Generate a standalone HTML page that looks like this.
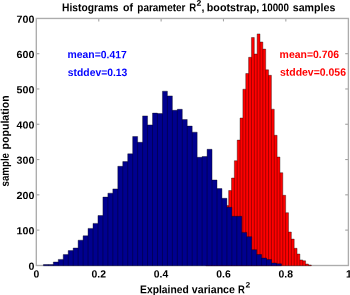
<!DOCTYPE html>
<html><head><meta charset="utf-8"><style>
html,body{margin:0;padding:0;background:#fff;width:350px;height:295px;overflow:hidden}
svg{display:block;will-change:transform}
text{font-family:"Liberation Sans",sans-serif;font-weight:bold;text-rendering:geometricPrecision}
</style></head><body>
<svg width="350" height="295" viewBox="0 0 350 295">
<rect x="0" y="0" width="350" height="295" fill="#fff"/>
<g stroke="#a4a4a4" stroke-width="1.1" fill="none">
<line x1="98.76" y1="18.40" x2="98.76" y2="21.40"/><line x1="98.76" y1="265.40" x2="98.76" y2="262.40"/><line x1="161.12" y1="18.40" x2="161.12" y2="21.40"/><line x1="161.12" y1="265.40" x2="161.12" y2="262.40"/><line x1="223.48" y1="18.40" x2="223.48" y2="21.40"/><line x1="223.48" y1="265.40" x2="223.48" y2="262.40"/><line x1="285.84" y1="18.40" x2="285.84" y2="21.40"/><line x1="285.84" y1="265.40" x2="285.84" y2="262.40"/><line x1="36.40" y1="230.11" x2="39.40" y2="230.11"/><line x1="348.20" y1="230.11" x2="345.20" y2="230.11"/><line x1="36.40" y1="194.83" x2="39.40" y2="194.83"/><line x1="348.20" y1="194.83" x2="345.20" y2="194.83"/><line x1="36.40" y1="159.54" x2="39.40" y2="159.54"/><line x1="348.20" y1="159.54" x2="345.20" y2="159.54"/><line x1="36.40" y1="124.26" x2="39.40" y2="124.26"/><line x1="348.20" y1="124.26" x2="345.20" y2="124.26"/><line x1="36.40" y1="88.97" x2="39.40" y2="88.97"/><line x1="348.20" y1="88.97" x2="345.20" y2="88.97"/><line x1="36.40" y1="53.69" x2="39.40" y2="53.69"/><line x1="348.20" y1="53.69" x2="345.20" y2="53.69"/>
</g>
<rect x="36.3" y="18.45" width="312.1" height="247.05" stroke="#acacac" stroke-width="1.35" fill="none"/>
<path d="M205.85,265.70L205.85,263.00L208.70,263.00L208.70,260.00L211.55,260.00L211.55,255.00L214.40,255.00L214.40,250.00L217.25,250.00L217.25,242.00L220.10,242.00L220.10,232.00L222.95,232.00L222.95,220.00L225.80,220.00L225.80,205.60L228.65,205.60L228.65,190.50L231.50,190.50L231.50,178.00L234.35,178.00L234.35,160.70L237.20,160.70L237.20,140.10L240.05,140.10L240.05,118.00L242.90,118.00L242.90,89.20L245.75,89.20L245.75,73.50L248.60,73.50L248.60,57.30L251.45,57.30L251.45,37.50L254.30,37.50L254.30,54.00L257.15,54.00L257.15,33.90L260.00,33.90L260.00,42.00L262.85,42.00L262.85,49.10L265.70,49.10L265.70,69.80L268.55,69.80L268.55,75.30L271.40,75.30L271.40,109.20L274.25,109.20L274.25,135.30L277.10,135.30L277.10,157.00L279.95,157.00L279.95,172.70L282.80,172.70L282.80,195.30L285.65,195.30L285.65,212.70L288.50,212.70L288.50,232.00L291.35,232.00L291.35,239.10L294.20,239.10L294.20,248.30L297.05,248.30L297.05,254.00L299.90,254.00L299.90,259.90L302.75,259.90L302.75,260.80L305.60,260.80L305.60,264.00L308.45,264.00L308.45,265.00L311.30,265.00L311.30,265.70Z" fill="#ff0000"/><path d="M205.85,265.70V263.00M205.85,263.00H208.70M208.70,265.70V260.00M208.70,260.00H211.55M211.55,265.70V255.00M211.55,255.00H214.40M214.40,265.70V250.00M214.40,250.00H217.25M217.25,265.70V242.00M217.25,242.00H220.10M220.10,265.70V232.00M220.10,232.00H222.95M222.95,265.70V220.00M222.95,220.00H225.80M225.80,265.70V205.60M225.80,205.60H228.65M228.65,265.70V190.50M228.65,190.50H231.50M231.50,265.70V178.00M231.50,178.00H234.35M234.35,265.70V160.70M234.35,160.70H237.20M237.20,265.70V140.10M237.20,140.10H240.05M240.05,265.70V118.00M240.05,118.00H242.90M242.90,265.70V89.20M242.90,89.20H245.75M245.75,265.70V73.50M245.75,73.50H248.60M248.60,265.70V57.30M248.60,57.30H251.45M251.45,265.70V37.50M251.45,37.50H254.30M254.30,265.70V37.50M254.30,54.00H257.15M257.15,265.70V33.90M257.15,33.90H260.00M260.00,265.70V33.90M260.00,42.00H262.85M262.85,265.70V42.00M262.85,49.10H265.70M265.70,265.70V49.10M265.70,69.80H268.55M268.55,265.70V69.80M268.55,75.30H271.40M271.40,265.70V75.30M271.40,109.20H274.25M274.25,265.70V109.20M274.25,135.30H277.10M277.10,265.70V135.30M277.10,157.00H279.95M279.95,265.70V157.00M279.95,172.70H282.80M282.80,265.70V172.70M282.80,195.30H285.65M285.65,265.70V195.30M285.65,212.70H288.50M288.50,265.70V212.70M288.50,232.00H291.35M291.35,265.70V232.00M291.35,239.10H294.20M294.20,265.70V239.10M294.20,248.30H297.05M297.05,265.70V248.30M297.05,254.00H299.90M299.90,265.70V254.00M299.90,259.90H302.75M302.75,265.70V259.90M302.75,260.80H305.60M305.60,265.70V260.80M305.60,264.00H308.45M308.45,265.70V264.00M308.45,265.00H311.30M311.30,265.70V265.00M205.85,265.70H311.30" fill="none" stroke="#000" stroke-width="0.6" stroke-opacity="0.6"/>
<path d="M43.40,265.70L43.40,264.50L48.36,264.50L48.36,264.50L53.32,264.50L53.32,262.00L58.28,262.00L58.28,259.40L63.24,259.40L63.24,254.60L68.20,254.60L68.20,250.60L73.16,250.60L73.16,248.00L78.12,248.00L78.12,240.20L83.08,240.20L83.08,235.80L88.04,235.80L88.04,228.40L93.00,228.40L93.00,223.40L97.96,223.40L97.96,215.50L102.92,215.50L102.92,197.10L107.88,197.10L107.88,193.20L112.84,193.20L112.84,188.90L117.80,188.90L117.80,166.30L122.76,166.30L122.76,161.60L127.72,161.60L127.72,153.80L132.68,153.80L132.68,136.50L137.64,136.50L137.64,142.30L142.60,142.30L142.60,115.90L147.56,115.90L147.56,124.90L152.52,124.90L152.52,113.10L157.48,113.10L157.48,113.50L162.44,113.50L162.44,91.20L167.40,91.20L167.40,95.90L172.36,95.90L172.36,110.30L177.32,110.30L177.32,109.30L182.28,109.30L182.28,119.50L187.24,119.50L187.24,126.10L192.20,126.10L192.20,132.20L197.16,132.20L197.16,157.30L202.12,157.30L202.12,156.50L207.08,156.50L207.08,149.30L212.04,149.30L212.04,180.00L217.00,180.00L217.00,188.60L221.96,188.60L221.96,198.30L226.92,198.30L226.92,207.30L231.88,207.30L231.88,216.30L236.84,216.30L236.84,216.30L241.80,216.30L241.80,232.40L246.76,232.40L246.76,236.70L251.72,236.70L251.72,249.70L256.68,249.70L256.68,254.50L261.64,254.50L261.64,258.10L266.60,258.10L266.60,259.60L271.56,259.60L271.56,263.00L276.52,263.00L276.52,263.80L281.48,263.80L281.48,265.70Z" fill="#00008f"/><path d="M43.40,265.70V264.50M43.40,264.50H48.36M48.36,265.70V264.50M48.36,264.50H53.32M53.32,265.70V262.00M53.32,262.00H58.28M58.28,265.70V259.40M58.28,259.40H63.24M63.24,265.70V254.60M63.24,254.60H68.20M68.20,265.70V250.60M68.20,250.60H73.16M73.16,265.70V248.00M73.16,248.00H78.12M78.12,265.70V240.20M78.12,240.20H83.08M83.08,265.70V235.80M83.08,235.80H88.04M88.04,265.70V228.40M88.04,228.40H93.00M93.00,265.70V223.40M93.00,223.40H97.96M97.96,265.70V215.50M97.96,215.50H102.92M102.92,265.70V197.10M102.92,197.10H107.88M107.88,265.70V193.20M107.88,193.20H112.84M112.84,265.70V188.90M112.84,188.90H117.80M117.80,265.70V166.30M117.80,166.30H122.76M122.76,265.70V161.60M122.76,161.60H127.72M127.72,265.70V153.80M127.72,153.80H132.68M132.68,265.70V136.50M132.68,136.50H137.64M137.64,265.70V136.50M137.64,142.30H142.60M142.60,265.70V115.90M142.60,115.90H147.56M147.56,265.70V115.90M147.56,124.90H152.52M152.52,265.70V113.10M152.52,113.10H157.48M157.48,265.70V113.10M157.48,113.50H162.44M162.44,265.70V91.20M162.44,91.20H167.40M167.40,265.70V91.20M167.40,95.90H172.36M172.36,265.70V95.90M172.36,110.30H177.32M177.32,265.70V109.30M177.32,109.30H182.28M182.28,265.70V109.30M182.28,119.50H187.24M187.24,265.70V119.50M187.24,126.10H192.20M192.20,265.70V126.10M192.20,132.20H197.16M197.16,265.70V132.20M197.16,157.30H202.12M202.12,265.70V156.50M202.12,156.50H207.08M207.08,265.70V149.30M207.08,149.30H212.04M212.04,265.70V149.30M212.04,180.00H217.00M217.00,265.70V180.00M217.00,188.60H221.96M221.96,265.70V188.60M221.96,198.30H226.92M226.92,265.70V198.30M226.92,207.30H231.88M231.88,265.70V207.30M231.88,216.30H236.84M236.84,265.70V216.30M236.84,216.30H241.80M241.80,265.70V216.30M241.80,232.40H246.76M246.76,265.70V232.40M246.76,236.70H251.72M251.72,265.70V236.70M251.72,249.70H256.68M256.68,265.70V249.70M256.68,254.50H261.64M261.64,265.70V254.50M261.64,258.10H266.60M266.60,265.70V258.10M266.60,259.60H271.56M271.56,265.70V259.60M271.56,263.00H276.52M276.52,265.70V263.00M276.52,263.80H281.48M281.48,265.70V263.80M43.40,265.70H281.48" fill="none" stroke="#000" stroke-width="0.6" stroke-opacity="0.6"/>
<g fill="#000">
<text transform="matrix(0.9172,0.0008,0,1,62.11,11.15)" font-size="11.2" fill="#000">Histograms</text>
<text transform="matrix(0.9450,0.0008,0,1,122.99,11.15)" font-size="11.2" fill="#000">of</text>
<text transform="matrix(0.8882,0.0008,0,1,137.34,11.15)" font-size="11.2" fill="#000">parameter</text>
<text transform="matrix(0.8591,0.0008,0,1,189.26,11.15)" font-size="11.2" fill="#000">R</text>
<text transform="matrix(1.0649,0.0008,0,1,196.39,5.80)" font-size="8.2" fill="#000">2</text>
<text transform="matrix(0.9366,0.0008,0,1,201.49,11.15)" font-size="11.2" fill="#000">,</text>
<text transform="matrix(0.9574,0.0008,0,1,206.79,11.15)" font-size="11.2" fill="#000">bootstrap,</text>
<text transform="matrix(0.8738,0.0008,0,1,261.78,11.15)" font-size="11.2" fill="#000">10000</text>
<text transform="matrix(0.9506,0.0008,0,1,292.73,11.15)" font-size="11.2" fill="#000">samples</text>
<text transform="matrix(0.9199,0.0008,0,1,140.11,293.20)" font-size="11.2" fill="#000">Explained</text>
<text transform="matrix(0.9484,0.0008,0,1,191.86,293.20)" font-size="11.2" fill="#000">variance</text>
<text transform="matrix(0.8450,0.0008,0,1,238.07,293.20)" font-size="11.2" fill="#000">R</text>
<text transform="matrix(1.0790,0.0008,0,1,245.50,287.60)" font-size="7.9" fill="#000">2</text>
<text transform="matrix(0.0008,-0.8672,1,0,8.80,186.44)" font-size="11.2">sample</text>
<text transform="matrix(0.0008,-0.9445,1,0,8.80,149.40)" font-size="11.2">population</text>
<text transform="matrix(1.0350,0.0008,0,1,28.41,269.65)" font-size="10.3">0</text>
<text transform="matrix(1.0350,0.0008,0,1,16.56,234.36)" font-size="10.3">100</text>
<text transform="matrix(1.0350,0.0008,0,1,16.56,199.08)" font-size="10.3">200</text>
<text transform="matrix(1.0350,0.0008,0,1,16.56,163.79)" font-size="10.3">300</text>
<text transform="matrix(1.0350,0.0008,0,1,16.56,128.51)" font-size="10.3">400</text>
<text transform="matrix(1.0350,0.0008,0,1,16.56,93.22)" font-size="10.3">500</text>
<text transform="matrix(1.0350,0.0008,0,1,16.56,57.94)" font-size="10.3">600</text>
<text transform="matrix(1.0350,0.0008,0,1,16.56,22.65)" font-size="10.3">700</text>
<text transform="matrix(1.0000,0.0008,0,1,33.51,277.50)" font-size="10.4">0</text>
<text transform="matrix(1.0000,0.0008,0,1,91.53,277.50)" font-size="10.4">0.2</text>
<text transform="matrix(1.0000,0.0008,0,1,153.71,277.50)" font-size="10.4">0.4</text>
<text transform="matrix(1.0000,0.0008,0,1,216.23,277.50)" font-size="10.4">0.6</text>
<text transform="matrix(1.0000,0.0008,0,1,278.57,277.50)" font-size="10.4">0.8</text>
<text transform="matrix(1.0000,0.0008,0,1,346.03,277.50)" font-size="10.4">1</text>
<text transform="matrix(0.9732,0.0008,0,1,67.51,58.10)" font-size="10.7" fill="#0000ff">mean=0.417</text>
<text transform="matrix(0.9671,0.0008,0,1,67.84,75.90)" font-size="10.7" fill="#0000ff">stddev=0.13</text>
<text transform="matrix(0.9768,0.0008,0,1,279.61,58.00)" font-size="10.7" fill="#ff0000">mean=0.706</text>
<text transform="matrix(0.9798,0.0008,0,1,279.93,75.80)" font-size="10.7" fill="#ff0000">stddev=0.056</text>
</g>
</svg>
</body></html>
